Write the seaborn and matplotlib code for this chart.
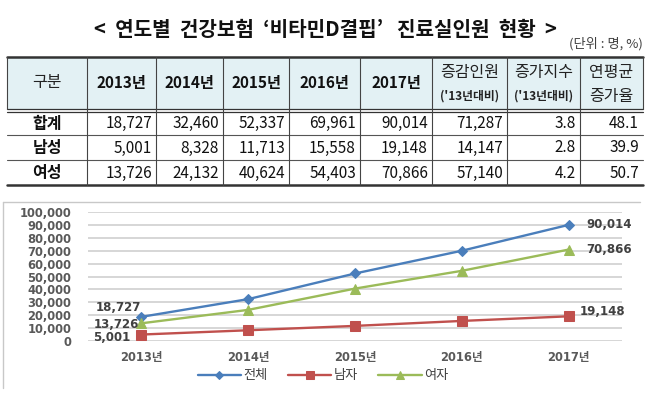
import matplotlib
matplotlib.use("Agg")
import matplotlib.pyplot as plt
import seaborn as sns
import pandas as pd
from matplotlib.ticker import FuncFormatter

# ---------------- data ----------------
years = ['2013년', '2014년', '2015년', '2016년', '2017년']
row_labels = ['합계', '남성', '여성']
total = [18727, 32460, 52337, 69961, 90014]
male = [5001, 8328, 11713, 15558, 19148]
female = [13726, 24132, 40624, 54403, 70866]
increase = [71287, 14147, 57140]
growth_index = [3.8, 2.8, 4.2]
cagr = [48.1, 39.9, 50.7]
series_names = ['전체', '남자', '여자']

title = '<  연도별  건강보험  ‘비타민D결핍’   진료실인원  현황  >'
unit = '(단위 : 명, %)'

# ---------------- style ----------------
sns.set_theme(style="white")
plt.rcParams['font.family'] = ['Noto Sans CJK KR', 'DejaVu Sans']

W, H = 650, 405
fig = plt.figure(figsize=(W / 100, H / 100), dpi=100)

# overlay in pixel coordinates for title + table
ov = fig.add_axes([0, 0, 1, 1])
ov.set_xlim(0, W)
ov.set_ylim(H, 0)
ov.axis('off')

ov.text(325, 29, title, ha='center', va='center', fontsize=14.5, fontweight='bold',
        color='#111111')
ov.text(643, 44, unit, ha='right', va='center', fontsize=9.5, color='#404040')

# table geometry
cols = [7, 87, 156, 223, 289, 360, 432, 507, 580, 643]
top, hdr_bot = 57, 109
row_b = [135, 160, 185]

ov.add_patch(plt.Rectangle((cols[0], top), cols[-1] - cols[0], hdr_bot - top,
                           facecolor='#e3f1f4', edgecolor='none', zorder=0))
# horizontal rules
ov.plot([cols[0], cols[-1]], [top, top], color='#333333', lw=1.8)
ov.plot([cols[0], cols[-1]], [hdr_bot, hdr_bot], color='#333333', lw=0.9)
ov.plot([cols[0], cols[-1]], [hdr_bot + 2.5, hdr_bot + 2.5], color='#333333', lw=0.9)
ov.plot([cols[0], cols[-1]], [row_b[0], row_b[0]], color='#555555', lw=0.8)
ov.plot([cols[0], cols[-1]], [row_b[1], row_b[1]], color='#555555', lw=0.8)
ov.plot([cols[0], cols[-1]], [row_b[2], row_b[2]], color='#333333', lw=1.8)
# vertical rules
for i, x in enumerate(cols):
    if i in (0, len(cols) - 1):
        ov.plot([x, x], [top, hdr_bot], color='#444444', lw=0.8)
    else:
        ov.plot([x, x], [top, row_b[2]], color='#444444', lw=0.8)

# header
hy = (top + hdr_bot) / 2
ov.text((cols[0] + cols[1]) / 2, hy, '구분', ha='center', va='center', fontsize=11.5,
        color='#222222')
for j, yr in enumerate(years):
    ov.text((cols[j + 1] + cols[j + 2]) / 2, hy, yr, ha='center', va='center',
            fontsize=11, fontweight='bold', color='#111111')
hdr_two = [('증감인원', "('13년대비)"), ('증가지수', "('13년대비)"), ('연평균', '증가율')]
for k, (a, b) in enumerate(hdr_two):
    cx = (cols[6 + k] + cols[7 + k]) / 2
    ov.text(cx, 72, a, ha='center', va='center', fontsize=11.5, color='#222222')
    if k < 2:
        ov.text(cx, 96, b, ha='center', va='center', fontsize=8.5, fontweight='bold',
                color='#222222')
    else:
        ov.text(cx, 97, b, ha='center', va='center', fontsize=11.5, color='#222222')

# body
row_tops = [hdr_bot + 2.5, row_b[0], row_b[1]]
series_tab = [total, male, female]
for r in range(3):
    cy = (row_tops[r] + row_b[r]) / 2 + 0.5
    ov.text((cols[0] + cols[1]) / 2, cy, row_labels[r], ha='center', va='center',
            fontsize=11.5, fontweight='bold', color='#111111')
    vals = [f"{v:,}" for v in series_tab[r]] + [f"{increase[r]:,}",
                                                f"{growth_index[r]:.1f}",
                                                f"{cagr[r]:.1f}"]
    for c, s in enumerate(vals):
        ov.text(cols[c + 2] - 4, cy, s, ha='right', va='center', fontsize=11,
                color='#111111')

# chart frame (left + top edges)
ov.plot([3, 640], [202, 202], color='#c8c8c8', lw=1)
ov.plot([3, 3], [202, 388], color='#c8c8c8', lw=1)

# ---------------- line chart ----------------
ax = fig.add_axes([88 / W, (H - 341) / H, 534 / W, 129 / H])
df = pd.DataFrame({'year': years * 3,
                   'value': total + male + female,
                   'series': [series_names[0]] * 5 + [series_names[1]] * 5 + [series_names[2]] * 5})
colors = ['#4a7ebb', '#c0504d', '#9bbb59']
markers = ['D', 's', '^']
msizes = [5.5, 7.5, 7.5]
for name, col, mk, ms in zip(series_names, colors, markers, msizes):
    sub = df[df['series'] == name]
    sns.lineplot(data=sub, x='year', y='value', ax=ax, color=col, marker=mk,
                 markersize=ms, markeredgecolor=col, linewidth=1.7, label=name,
                 sort=False)

ax.set_xlim(-0.5, 4.5)
ax.set_ylim(0, 100000)
ax.set_yticks(range(0, 100001, 10000))
ax.yaxis.set_major_formatter(FuncFormatter(lambda v, p: f"{int(v):,}"))
ax.set_xlabel('')
ax.set_ylabel('')
for sp in ax.spines.values():
    sp.set_visible(False)
ax.grid(False)
ax.yaxis.grid(True, color='#d0d0d0', lw=1.2)
ax.set_axisbelow(True)
ax.tick_params(axis='y', length=0, pad=12, labelsize=8.3, labelcolor='#595959')
ax.tick_params(axis='x', length=0, pad=7, labelsize=8.3, labelcolor='#595959')
for lab in ax.get_yticklabels() + ax.get_xticklabels():
    lab.set_fontweight('bold')
    lab.set_family(['DejaVu Sans', 'Noto Sans CJK KR'])

# data labels
lab_specs = [
    (total, 0, (-23, 9), 'center'),
    (female, 0, (-25, -1), 'center'),
    (male, 0, (-30, -3), 'center'),
    (total, 4, (18, 0), 'left'),
    (female, 4, (18, 0), 'left'),
    (male, 4, (11, 5), 'left'),
]
for ser, idx, off, ha in lab_specs:
    ax.annotate(f"{ser[idx]:,}", (idx, ser[idx]), xytext=off, textcoords='offset pixels',
                ha=ha, va='center', fontsize=8.5, fontweight='bold', color='#404040',
                family=['DejaVu Sans', 'Noto Sans CJK KR'], annotation_clip=False)

handles, labels = ax.get_legend_handles_labels()
ax.get_legend().remove()
leg = fig.legend(handles, labels, loc='center', bbox_to_anchor=(323 / W, 1 - 376 / H),
                 ncol=3, frameon=False, fontsize=9.5, handlelength=3.3, handletextpad=0.2,
                 columnspacing=1.5, markerscale=0.7)
for t in leg.get_texts():
    t.set_color('#404040')

fig.savefig('out.png', dpi=100)
